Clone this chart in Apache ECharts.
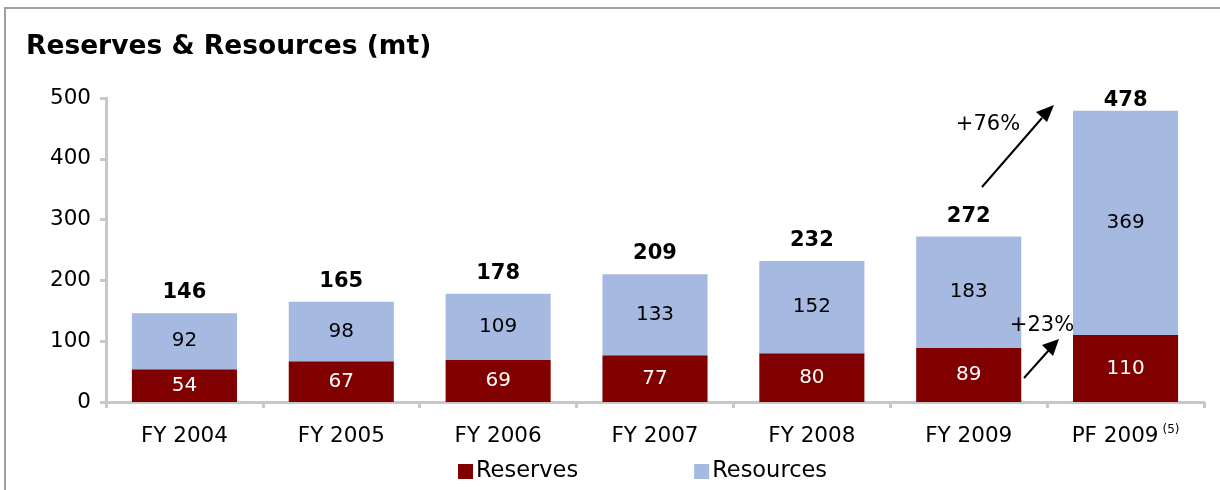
<!DOCTYPE html>
<html><head><meta charset="utf-8">
<script src="https://cdn.jsdelivr.net/npm/echarts@6/dist/echarts.min.js"></script>
<style>html,body{margin:0;padding:0;background:#fff}#c{width:1220px;height:490px}</style>
</head><body><div id="c"></div>
<script>
const categories = ['FY 2004','FY 2005','FY 2006','FY 2007','FY 2008','FY 2009','PF 2009'];
const reserves = [54, 67, 69, 77, 80, 89, 110];
const resources = [92, 98, 109, 133, 152, 183, 369];
const totals = [146, 165, 178, 209, 232, 272, 478];
const yTicks = [0, 100, 200, 300, 400, 500];

const FONT = 'DejaVu Sans';
const chart = echarts.init(document.getElementById('c'), null, {renderer:'canvas'});
chart.setOption({
  animation: false,
  backgroundColor: '#fff',
  textStyle: {fontFamily: FONT},
  title: {text: 'Reserves & Resources (mt)', left: 21, top: 29,
    textStyle: {fontFamily: FONT, fontWeight: 'bold', fontSize: 26.5, color: '#000'}},
  grid: {left: 106, right: 16, top: 98, bottom: 88},
  legend: {data: ['Reserves','Resources'], bottom: 2, left: 453, itemGap: 116,
    itemWidth: 15, itemHeight: 15, icon: 'rect',
    textStyle: {fontFamily: FONT, fontSize: 22.5, color: '#000', padding: [0,0,0,-2]}},
  xAxis: {type: 'category', data: categories,
    axisLine: {lineStyle: {color: '#c8c8c8', width: 3}},
    axisTick: {show: true, length: 6, lineStyle: {color: '#c8c8c8', width: 3}},
    axisLabel: {interval: 0, fontFamily: FONT, fontSize: 21.5, color: '#000', margin: 22,
      lineHeight: 24,
      formatter: function(v){ return v === 'PF 2009' ? v + '{sup|(5)}' : v; },
      rich: {sup: {fontSize: 12, lineHeight: 24, verticalAlign: 'top', padding: [0,0,0,4], color:'#000'}}}},
  yAxis: {type: 'value', min: 0, max: 500, interval: 100,
    splitLine: {show: false},
    axisLine: {show: true, lineStyle: {color: '#c8c8c8', width: 3}},
    axisTick: {show: true, length: 6, lineStyle: {color: '#c8c8c8', width: 3}},
    axisLabel: {fontFamily: FONT, fontSize: 21.5, color: '#000', margin: 15,
      formatter: function(v){ return yTicks.indexOf(v) >= 0 ? String(v) : ''; }}},
  series: [
    {name: 'Reserves', type: 'bar', stack: 'a', data: reserves, barCategoryGap: '33%',
      itemStyle: {color: '#800000'},
      label: {show: true, position: 'inside', color: '#fff', fontFamily: FONT, fontSize: 20}},
    {name: 'Resources', type: 'bar', stack: 'a', data: resources,
      itemStyle: {color: '#a6b9e0'},
      label: {show: true, position: 'inside', color: '#000', fontFamily: FONT, fontSize: 20}},
    {name: 'Total', type: 'bar', stack: 'a',
      data: totals.map(function(t, i){ return i === totals.length - 1 ? {value: 0, label: {distance: 0}} : 0; }),
      itemStyle: {color: 'transparent'},
      label: {show: true, position: 'top', distance: 10, color: '#000', fontFamily: FONT,
        fontSize: 21, fontWeight: 'bold',
        formatter: function(p){ return String(totals[p.dataIndex]); }}}
  ],
  graphic: [
    {type: 'rect', shape: {x: 5, y: 8, width: 1300, height: 600}, silent: true, z: -1,
      style: {fill: 'none', stroke: '#a0a0a0', lineWidth: 2}},
    {type: 'line', z: 100, shape: {x1: 982, y1: 187, x2: 1042, y2: 118}, style: {stroke: '#000', lineWidth: 2}},
    {type: 'polygon', z: 100, shape: {points: [[1054,105],[1036,112],[1047,122]]}, style: {fill: '#000'}},
    {type: 'text', z: 100, x: 988, y: 125, style: {text: '+76%', fontFamily: FONT, fontSize: 21, fill: '#000', align: 'center', verticalAlign: 'middle'}},
    {type: 'line', z: 100, shape: {x1: 1024, y1: 378, x2: 1049, y2: 350}, style: {stroke: '#000', lineWidth: 2}},
    {type: 'polygon', z: 100, shape: {points: [[1059,339],[1042,345],[1053,356]]}, style: {fill: '#000'}},
    {type: 'text', z: 100, x: 1042, y: 326, style: {text: '+23%', fontFamily: FONT, fontSize: 21, fill: '#000', align: 'center', verticalAlign: 'middle'}}
  ]
});
</script></body></html>
